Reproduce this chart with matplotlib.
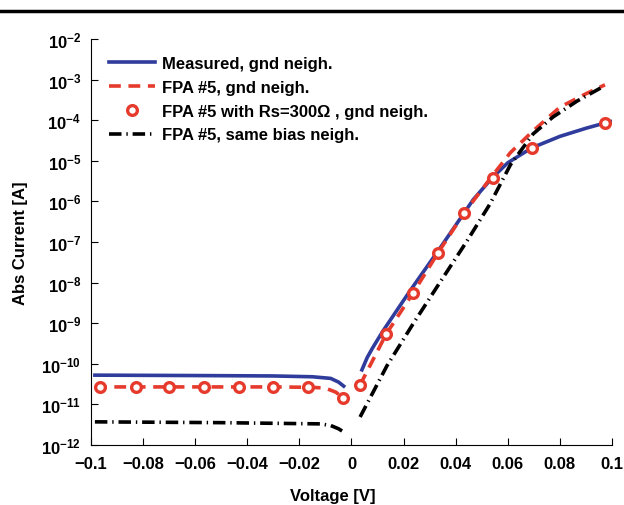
import numpy as np
import matplotlib.pyplot as plt
from matplotlib.lines import Line2D

plt.rcParams['font.family'] = ['Liberation Sans', 'DejaVu Sans']
plt.rcParams['font.weight'] = 'bold'
plt.rcParams['mathtext.fontset'] = 'custom'
plt.rcParams['mathtext.rm'] = 'Liberation Sans:bold'
plt.rcParams['mathtext.bf'] = 'Liberation Sans:bold'
plt.rcParams['lines.scale_dashes'] = False

# measured, gnd neighbours (log10 of current)
meas_v_neg = [-0.0985, -0.06, -0.03, -0.015, -0.008, -0.005, -0.003]
meas_l_neg = [-10.28, -10.29, -10.30, -10.32, -10.36, -10.45, -10.55]
meas_v_pos = [0.004, 0.006, 0.008, 0.012, 0.0225, 0.034, 0.0467, 0.054, 0.06, 0.065, 0.0693, 0.08, 0.09, 0.0973, 0.1]
meas_l_pos = [-10.15, -9.85, -9.62, -9.2, -8.2, -7.15, -5.96, -5.42, -5.05, -4.85, -4.68, -4.4, -4.2, -4.07, -4.03]

# FPA #5, gnd neighbours
fpa_v_neg = [-0.0985, -0.06, -0.03, -0.015, -0.01, -0.006, -0.0033]
fpa_l_neg = [-10.57, -10.57, -10.57, -10.58, -10.6, -10.7, -10.84]
fpa_v_pos = [0.0033, 0.0133, 0.0236, 0.0332, 0.0432, 0.0543, 0.061, 0.0693, 0.08, 0.09, 0.0973]
fpa_l_pos = [-10.52, -9.27, -8.26, -7.27, -6.29, -5.35, -4.8, -4.29, -3.68, -3.35, -3.13]

# FPA #5 with Rs=300 Ohm
rs_v = [-0.0966, -0.0827, -0.070, -0.0566, -0.0432, -0.0301, -0.0167, -0.0033,
        0.0033, 0.0133, 0.0236, 0.0332, 0.0432, 0.0543, 0.0693, 0.0973]
rs_l = [-10.57, -10.57, -10.57, -10.57, -10.57, -10.57, -10.57, -10.84,
        -10.52, -9.27, -8.26, -7.27, -6.29, -5.42, -4.68, -4.07]

# FPA #5, same bias neighbours
sb_v_neg = [-0.0985, -0.05, -0.012, -0.008, -0.005, -0.003]
sb_l_neg = [-11.43, -11.45, -11.48, -11.52, -11.6, -11.68]
sb_v_pos = [0.0033, 0.0136, 0.0236, 0.034, 0.0443, 0.0532, 0.061, 0.0697, 0.0774, 0.0866, 0.097]
sb_l_pos = [-11.31, -10.05, -9.02, -7.99, -6.98, -6.06, -5.1, -4.34, -3.92, -3.53, -3.16]

xticks = [-0.1, -0.08, -0.06, -0.04, -0.02, 0, 0.02, 0.04, 0.06, 0.08, 0.1]
xlabels = ['\u22120.1', '\u22120.08', '\u22120.06', '\u22120.04', '\u22120.02', '0',
           '0.02', '0.04', '0.06', '0.08', '0.1']

blue = '#2f3c9c'
red = '#e63b2c'

fig = plt.figure(figsize=(6.24, 5.06), dpi=100)
ax = fig.add_axes([0.1458, 0.1186, 0.835, 0.8025])

p = lambda l: 10.0 ** np.array(l)

ax.plot(meas_v_neg, p(meas_l_neg), color=blue, lw=2.6, label='Measured, gnd neigh.')
ax.plot(meas_v_pos, p(meas_l_pos), color=blue, lw=2.6)
ax.plot(fpa_v_neg, p(fpa_l_neg), color=red, lw=2.6, ls=(0, (8.5, 5.5)), label='FPA #5, gnd neigh.')
ax.plot(fpa_v_pos, p(fpa_l_pos), color=red, lw=2.6, ls=(0, (8.5, 5.5)))
ax.plot(rs_v, p(rs_l), ls='none', marker='o', ms=7, mew=2.4, mfc='white', mec=red,
        label='FPA #5 with Rs=300\u03a9 , gnd neigh.')
ax.plot(sb_v_neg, p(sb_l_neg), color='black', lw=2.6, ls=(0, (9, 3.5, 1, 3.5)),
        label='FPA #5, same bias neigh.')
ax.plot(sb_v_pos, p(sb_l_pos), color='black', lw=2.6, ls=(0, (9, 3.5, 1, 3.5)))

ax.set_yscale('log')
ax.set_ylim(1e-12, 1e-2)
ax.set_xlim(-0.1, 0.1)
ax.set_xticks(xticks)
ax.set_xticklabels(xlabels)
ax.set_yticks([10.0 ** k for k in range(-12, -1)])

for s in ['top', 'right']:
    ax.spines[s].set_visible(False)
ax.tick_params(which='both', direction='in', labelsize=12)
ax.tick_params(which='major', length=5, pad=7)
ax.tick_params(axis='x', pad=8)
ax.tick_params(which='minor', length=2.5)

ax.set_xlabel('Voltage [V]', fontsize=12, fontweight='bold')
ax.set_ylabel('Abs Current [A]', fontsize=12, fontweight='bold')
ax.xaxis.set_label_coords(0.4645, -0.107)
ax.yaxis.set_label_coords(-0.12, 0.5)

ax.legend(loc='upper left', bbox_to_anchor=(0.0345, 0.958), frameon=False, fontsize=12,
          handlelength=2.75, handletextpad=0.42, labelspacing=0.53, numpoints=1,
          borderaxespad=0, borderpad=0)

fig.add_artist(Line2D([0, 1], [0.976, 0.976], color='black', lw=2.5, transform=fig.transFigure))

fig.savefig('out.png', dpi=100)
